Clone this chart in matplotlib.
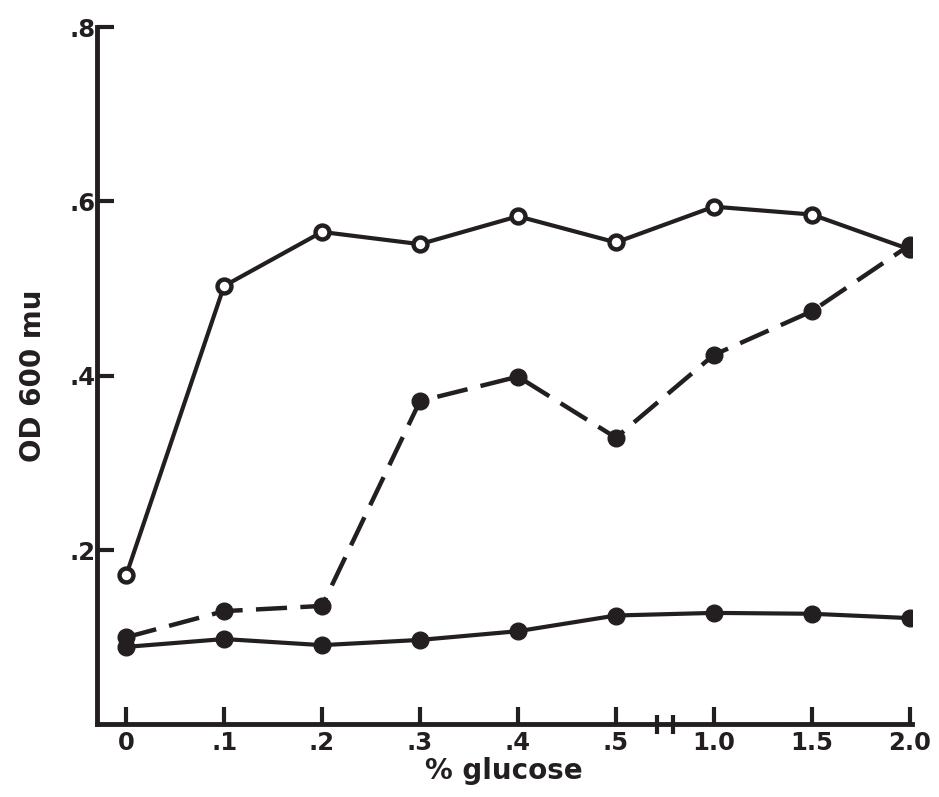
import numpy as np
import matplotlib
matplotlib.use("Agg")
import matplotlib.pyplot as plt

# glucose concentrations (%), plotted at equal spacing with a break after .5
glucose_labels = ["0", ".1", ".2", ".3", ".4", ".5", "1.0", "1.5", "2.0"]

# OD 600 readings
od_open = [0.171, 0.503, 0.565, 0.551, 0.583, 0.553, 0.594, 0.585, 0.545]
od_dashed = [0.100, 0.130, 0.136, 0.371, 0.399, 0.329, 0.424, 0.474, 0.550]
od_low = [0.089, 0.098, 0.091, 0.097, 0.107, 0.125, 0.128, 0.127, 0.122]

ink = "#231f20"

plt.rcParams['font.family'] = ['DejaVu Sans']
plt.rcParams['font.weight'] = 'bold'

fig = plt.figure(figsize=(9.39, 7.97), dpi=100)
ax = fig.add_axes([0.103, 0.091, 0.868, 0.875])

x = np.arange(len(glucose_labels))

ax.plot(x, od_open, '-', color=ink, lw=3, marker='o', ms=10,
        mfc='white', mec=ink, mew=3.2, zorder=3)
ax.plot(x, od_dashed, color=ink, lw=3.2, dashes=(7, 3), marker='o', ms=12,
        mfc=ink, mec=ink, zorder=3)
ax.plot(x, od_low, '-', color=ink, lw=3, marker='o', ms=12,
        mfc=ink, mec=ink, zorder=3)

ax.set_xlim(-0.3, 8.02)
ax.set_ylim(0, 0.8)

for s in ['top', 'right']:
    ax.spines[s].set_visible(False)
for s in ['left', 'bottom']:
    ax.spines[s].set_linewidth(3.5)
    ax.spines[s].set_color(ink)

ax.set_xticks(x)
ax.set_xticklabels(glucose_labels)
ax.set_yticks([0.2, 0.4, 0.6, 0.8])
ax.set_yticklabels([".2", ".4", ".6", ".8"])
ax.tick_params(axis='both', direction='in', length=12, width=3, color=ink,
               labelsize=17.5, labelcolor=ink)
ax.tick_params(axis='x', pad=5)
ax.tick_params(axis='y', pad=1)

# axis break marks between .5 and 1.0
for xb in [5.42, 5.58]:
    ax.plot([xb, xb], [-0.011, 0.011], color=ink, lw=3, clip_on=False,
            solid_capstyle='butt')

ax.set_xlabel("% glucose", fontsize=20, fontweight='bold', color=ink,
              labelpad=1)
ax.set_ylabel("OD 600 mu", fontsize=20, fontweight='bold', color=ink,
              labelpad=16)

fig.savefig("out.png", dpi=100, facecolor='white')
